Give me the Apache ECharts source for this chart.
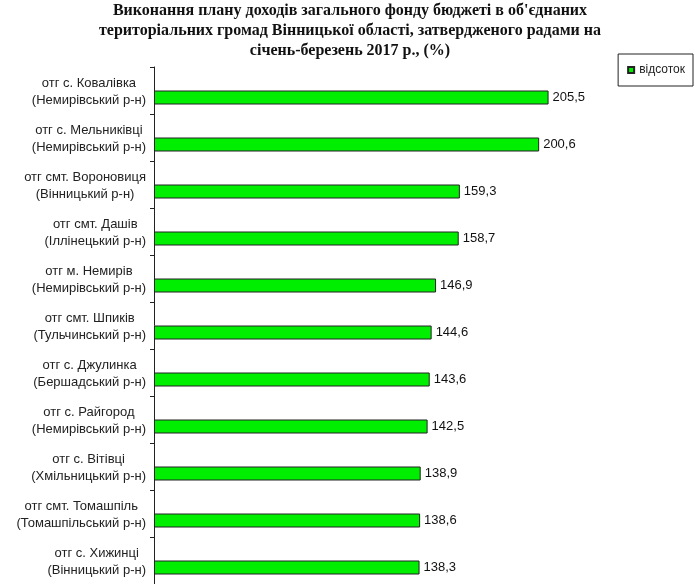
<!DOCTYPE html>
<html>
<head>
<meta charset="utf-8">
<script src="https://cdn.jsdelivr.net/npm/echarts@6/dist/echarts.min.js"></script>
<style>
    html, body { margin: 0; padding: 0; background: #fff; }
    #chart_box { width: 700px; height: 584px; }
</style>
</head>
<body>
<div id="chart_box"></div>
<script>
(function() {

    // громади (дві рядки: назва + район)
    var categories = [
        'отг с. Ковалівка\n(Немирівський р-н)',
        'отг с. Мельниківці\n(Немирівський р-н)',
        'отг смт. Вороновиця\n(Вінницький р-н)',
        'отг смт. Дашів\n(Іллінецький р-н)',
        'отг м. Немирів\n(Немирівський р-н)',
        'отг смт. Шпиків\n(Тульчинський р-н)',
        'отг с. Джулинка\n(Бершадський р-н)',
        'отг с. Райгород\n(Немирівський р-н)',
        'отг с. Вітівці\n(Хмільницький р-н)',
        'отг смт. Томашпіль\n(Томашпільський р-н)',
        'отг с. Хижинці\n(Вінницький р-н)'
    ];
    var percent = [205.5, 200.6, 159.3, 158.7, 146.9, 144.6, 143.6, 142.5, 138.9, 138.6, 138.3];
    var seriesName = 'відсоток';
    var titleText = 'Виконання плану доходів загального фонду бюджеті в об\'єднаних\nтериторіальних громад Вінницької області, затвердженого радами на\nсічень-березень 2017 р., (%)';

    var myChart = echarts.init(document.getElementById('chart_box'));

    myChart.setOption({
        backgroundColor: '#fff',
        animation: false,
        title: {
            text: titleText,
            left: 'center',
            top: 0,
            padding: [1, 0, 0, 0],
            textStyle: {
                fontFamily: 'Liberation Serif',
                fontWeight: 'bold',
                fontSize: 16,
                lineHeight: 20,
                color: '#111'
            }
        },
        legend: {
            data: [seriesName],
            right: 7,
            top: 54,
            padding: [10, 8, 10, 9],
            borderColor: '#222',
            borderWidth: 1,
            icon: 'rect',
            itemWidth: 6,
            itemHeight: 6,
            itemGap: 4,
            textStyle: {
                fontFamily: 'Liberation Sans',
                fontSize: 12,
                color: '#222'
            }
        },
        grid: {
            left: 154,
            right: 66,
            top: 67,
            bottom: -7,
            containLabel: false
        },
        xAxis: {
            type: 'value',
            min: 0,
            max: 250,
            show: false
        },
        yAxis: {
            type: 'category',
            inverse: true,
            data: categories,
            axisLine: {
                show: true,
                lineStyle: { color: '#222', width: 1 }
            },
            axisTick: {
                show: true,
                length: 4,
                lineStyle: { color: '#222' }
            },
            axisLabel: {
                margin: 8,
                padding: [3, 0, 0, 0],
                formatter: function(v) {
                    var p = v.split('\n');
                    return '{c|' + p[0] + '}\n{c|' + p[1] + '}';
                },
                rich: {
                    c: {
                        align: 'center',
                        fontFamily: 'Liberation Sans',
                        fontSize: 13,
                        lineHeight: 17,
                        color: '#222'
                    }
                }
            },
            splitLine: { show: false }
        },
        series: [{
            // порожня серія — зсуває смугу вниз, як в оригіналі
            name: '_',
            type: 'bar',
            data: [],
            barWidth: 14,
            barGap: '0%'
        }, {
            name: seriesName,
            type: 'bar',
            data: percent,
            barWidth: 14,
            barGap: '0%',
            itemStyle: {
                color: '#00ee00',
                borderColor: '#222',
                borderWidth: 1
            },
            label: {
                show: true,
                position: 'right',
                distance: 4,
                fontFamily: 'Liberation Sans',
                fontSize: 13,
                color: '#111',
                formatter: function(p) {
                    return String(p.value).replace('.', ',');
                }
            }
        }]
    });
})();
</script>
</body>
</html>
